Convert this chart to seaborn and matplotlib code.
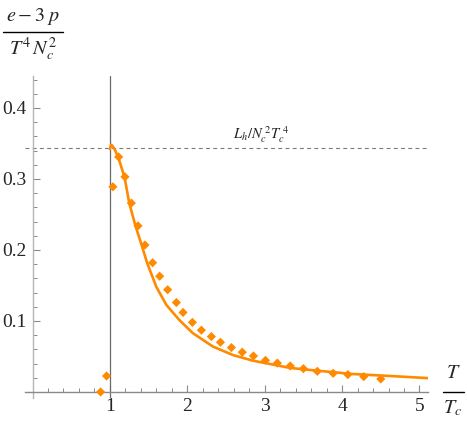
import matplotlib
matplotlib.use("Agg")
import matplotlib.pyplot as plt
import seaborn as sns
import pandas as pd
from matplotlib.lines import Line2D
from matplotlib.ticker import MultipleLocator, FixedLocator

# ---- data ----
curve_T = [1.000, 1.015, 1.030, 1.060, 1.110, 1.190, 1.250, 1.330, 1.410, 1.480,
           1.600, 1.730, 1.900, 2.070, 2.330, 2.590, 2.850, 3.070, 3.320, 3.580,
           3.970, 4.100, 4.620, 5.140]
curve_y = [0.342, 0.348, 0.347, 0.342, 0.330, 0.302, 0.266, 0.234, 0.207, 0.182,
           0.148, 0.1225, 0.101, 0.083, 0.064, 0.052, 0.044, 0.0394, 0.034, 0.031,
           0.027, 0.0255, 0.0225, 0.0193]

pts_T = [0.880, 0.957, 1.039, 1.113, 1.194, 1.277, 1.363, 1.453, 1.552, 1.643,
         1.746, 1.859, 1.945, 2.066, 2.182, 2.311, 2.428, 2.570, 2.710, 2.855,
         3.010, 3.163, 3.330, 3.500, 3.680, 3.885, 4.075, 4.280, 4.500]
pts_y = [0.000, 0.0225, 0.289, 0.331, 0.303, 0.266, 0.234, 0.207, 0.182, 0.163,
         0.144, 0.126, 0.112, 0.098, 0.087, 0.078, 0.070, 0.0625, 0.056, 0.0507,
         0.0445, 0.0407, 0.0366, 0.0328, 0.0291, 0.0263, 0.0245, 0.0216, 0.0183]

Lh_level = 0.344
Tc_line = 1.0
x_ticks = [1, 2, 3, 4, 5]
y_ticks = [0.1, 0.2, 0.3, 0.4]
y_tick_labels = ["0.1", "0.2", "0.3", "0.4"]

sns.set_style("white")
plt.rcParams["font.family"] = ["Liberation Serif", "DejaVu Serif"]
plt.rcParams["mathtext.fontset"] = "stix"

orange = "#FF8A00"

W, H = 467, 422
fig = plt.figure(figsize=(W / 100, H / 100), dpi=100)
ax = fig.add_axes([25 / W, (H - 398) / H, (428 - 25) / W, (398 - 76) / H])

df_c = pd.DataFrame({"T": curve_T, "y": curve_y})
df_p = pd.DataFrame({"T": pts_T, "y": pts_y})

sns.lineplot(data=df_c, x="T", y="y", ax=ax, color=orange, lw=1.9,
             estimator=None, sort=False, zorder=3)
sns.scatterplot(data=df_p, x="T", y="y", ax=ax, color=orange, marker="D",
                s=22, edgecolor="none", zorder=4)

ax.axvline(Tc_line, color="#6a6a6a", lw=0.9, zorder=2)
ax.axhline(Lh_level, color="#7a7a7a", lw=0.8, ls=(0, (3.5, 3)), zorder=2)
ax.text(2.96, Lh_level + 0.004, r"$L_h/N_c^{\ 2}T_c^{\ 4}$", ha="center",
        va="bottom", fontsize=10.5, color="#222222")

ax.set_xlim(-0.097, 5.11)
ax.set_ylim(-0.0085, 0.445)

for s in ["top", "right"]:
    ax.spines[s].set_visible(False)
ax.spines["left"].set_position(("data", 0))
ax.spines["bottom"].set_position(("data", 0))
ax.spines["left"].set_color("#b5b5b5")
ax.spines["bottom"].set_color("#8a8a8a")
ax.spines["left"].set_linewidth(1.0)
ax.spines["bottom"].set_linewidth(1.0)

ax.xaxis.set_major_locator(FixedLocator(x_ticks))
ax.set_xticklabels([str(v) for v in x_ticks])
ax.xaxis.set_minor_locator(MultipleLocator(0.2))
ax.yaxis.set_major_locator(FixedLocator(y_ticks))
ax.set_yticklabels(y_tick_labels)
ax.yaxis.set_minor_locator(MultipleLocator(0.02))

ax.tick_params(axis="both", which="major", direction="in", length=5, width=0.8,
               color="#8a8a8a", labelsize=14, pad=4)
ax.tick_params(axis="both", which="minor", direction="in", length=3, width=0.7,
               color="#8a8a8a")
ax.tick_params(axis="x", which="both", bottom=True, top=False)
ax.tick_params(axis="y", which="both", left=True, right=False)
ax.set_xlabel("")
ax.set_ylabel("")


def px(x, y):
    return x / W, 1 - y / H


# y-axis label as a hand-built fraction
fig.text(*px(33, 21), r"$e-3\;p$", ha="center", va="baseline", fontsize=14.5)
fig.add_artist(Line2D([3 / W, 63 / W], [1 - 31.7 / H, 1 - 31.7 / H],
                      color="black", lw=1.0, transform=fig.transFigure))
fig.text(*px(33, 55), r"$T^4\,N_c^2$", ha="center", va="baseline", fontsize=14.5)

# x-axis label as a hand-built fraction
fig.text(*px(453, 378), r"$T$", ha="center", va="baseline", fontsize=14.5)
fig.add_artist(Line2D([443 / W, 464 / W], [1 - 391.7 / H, 1 - 391.7 / H],
                      color="black", lw=1.0, transform=fig.transFigure))
fig.text(*px(453, 413), r"$T_c$", ha="center", va="baseline", fontsize=14.5)

fig.savefig("out.png", dpi=100, facecolor="white")
